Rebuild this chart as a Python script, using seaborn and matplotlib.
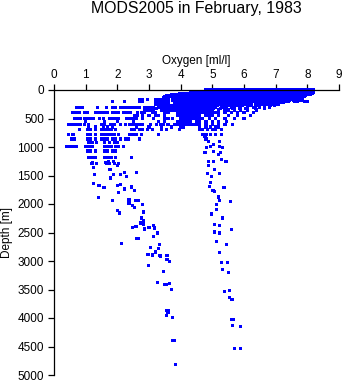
import matplotlib
matplotlib.use("Agg")
import matplotlib.pyplot as plt
import seaborn as sns
import pandas as pd

# Oxygen samples (ml/l) grouped by observed depth level (m) in the upper ocean
row_depth = [0, 20, 40, 60, 80, 100, 120, 140, 160, 180, 200, 225, 250, 275, 300, 325,
             350, 400, 450, 500, 560, 600, 650, 700, 780, 860, 920, 990, 1070, 1180, 1290]
row_oxygen = [
    # 0
    [4.8, 4.9, 5.0, 5.1, 5.2, 5.3, 5.4, 5.5, 5.6, 5.7, 5.8, 5.9, 6.0, 6.1, 6.2, 6.3, 6.4,
     6.5, 6.6, 6.7, 6.8, 6.9, 7.0, 7.1, 7.2, 7.3, 7.4, 7.5, 7.6, 7.7, 7.8, 7.9, 8.0, 8.1, 8.2],
    # 20
    [4.55, 4.65, 4.75, 4.85, 4.95, 5.05, 5.15, 5.25, 5.35, 5.45, 5.55, 5.65, 5.75, 5.85,
     5.95, 6.05, 6.15, 6.25, 6.35, 6.45, 6.55, 6.65, 6.75, 6.85, 6.95, 7.05, 7.15, 7.25,
     7.35, 7.45, 7.55, 7.65, 7.75, 7.85, 7.95, 8.05, 8.15],
    # 40
    [4.3, 4.4, 4.5, 4.6, 4.7, 4.8, 4.9, 5.0, 5.1, 5.2, 5.3, 5.4, 5.5, 5.6, 5.7, 5.8, 5.9,
     6.0, 6.1, 6.2, 6.3, 6.4, 6.5, 6.6, 6.7, 6.8, 6.9, 7.0, 7.1, 7.2, 7.3, 7.4, 7.5, 7.6,
     7.7, 7.8, 7.9, 8.0, 8.1, 8.2],
    # 60
    [3.95, 4.05, 4.15, 4.25, 4.35, 4.45, 4.55, 4.65, 4.75, 4.85, 4.95, 5.05, 5.15, 5.25,
     5.35, 5.45, 5.55, 5.65, 5.75, 5.85, 5.95, 6.05, 6.15, 6.25, 6.35, 6.45, 6.55, 6.65,
     6.75, 6.85, 6.95, 7.05, 7.15, 7.25, 7.35, 7.45, 7.55, 7.65, 7.75, 7.85, 7.95, 8.05,
     8.15],
    # 80
    [3.7, 3.8, 3.9, 4.0, 4.1, 4.2, 4.3, 4.4, 4.5, 4.6, 4.7, 4.8, 4.9, 5.0, 5.1, 5.2, 5.3,
     5.4, 5.5, 5.6, 5.7, 5.8, 5.9, 6.0, 6.1, 6.2, 6.3, 6.4, 6.5, 6.6, 6.7, 6.8, 6.9, 7.0,
     7.1, 7.2, 7.3, 7.4, 7.5, 7.6, 7.7, 7.8, 7.9, 8.0, 8.1],
    # 100
    [3.55, 3.65, 3.75, 3.85, 3.95, 4.05, 4.15, 4.25, 4.35, 4.45, 4.55, 4.65, 4.75, 4.85,
     4.95, 5.05, 5.15, 5.25, 5.35, 5.45, 5.55, 5.65, 5.75, 5.85, 5.95, 6.05, 6.15, 6.25,
     6.35, 6.45, 6.55, 6.65, 6.75, 6.85, 6.95, 7.05, 7.15, 7.25, 7.35, 7.45, 7.55, 7.65,
     7.75, 7.85, 7.95],
    # 120
    [3.5, 3.6, 3.7, 3.8, 3.9, 4.0, 4.1, 4.2, 4.3, 4.4, 4.5, 4.6, 4.7, 4.8, 4.9, 5.0, 5.1,
     5.2, 5.3, 5.4, 5.5, 5.6, 5.7, 5.8, 5.9, 6.0, 6.1, 6.2, 6.3, 6.4, 6.5, 6.6, 6.7, 6.8,
     6.9, 7.0, 7.1, 7.2, 7.3, 7.4, 7.5, 7.6, 7.7, 7.8, 7.9],
    # 140
    [3.45, 3.55, 3.75, 3.85, 3.95, 4.05, 4.15, 4.25, 4.35, 4.45, 4.55, 4.65, 4.75, 4.85,
     4.95, 5.05, 5.15, 5.25, 5.35, 5.45, 5.55, 5.65, 5.75, 5.85, 5.95, 6.05, 6.15, 6.25,
     6.35, 6.45, 6.55, 6.65, 6.75, 6.85, 7.05, 7.15, 7.25, 7.35, 7.45, 7.55, 7.65, 7.75,
     7.85],
    # 160
    [2.7, 2.8, 2.95, 3.2, 3.3, 3.4, 3.5, 3.6, 3.8, 3.9, 4.0, 4.1, 4.2, 4.3, 4.4, 4.5, 4.6,
     4.7, 4.8, 4.9, 5.0, 5.1, 5.2, 5.3, 5.4, 5.5, 5.6, 5.7, 5.8, 5.9, 6.0, 6.1, 6.2, 6.3,
     6.4, 6.5, 6.6, 6.7, 6.8, 6.9, 7.0, 7.1, 7.2, 7.3, 7.4, 7.5, 7.6, 7.7, 7.8],
    # 180
    [3.25, 3.35, 3.45, 3.55, 3.75, 3.85, 3.95, 4.05, 4.15, 4.25, 4.35, 4.45, 4.55, 4.65,
     4.75, 4.85, 4.95, 5.05, 5.15, 5.25, 5.35, 5.45, 5.55, 5.65, 5.75, 5.85, 5.95, 6.05,
     6.15, 6.25, 6.35, 6.45, 6.55, 6.65, 6.75, 6.85, 6.95, 7.05, 7.15, 7.25, 7.35, 7.45,
     7.55, 7.75, 7.85],
    # 200
    [1.86, 2.24, 2.7, 2.8, 3.2, 3.3, 3.4, 3.5, 3.6, 3.8, 3.9, 4.0, 4.1, 4.2, 4.3, 4.4, 4.5,
     4.6, 4.7, 4.8, 4.9, 5.0, 5.1, 5.2, 5.3, 5.4, 5.5, 5.6, 5.7, 5.8, 5.9, 6.0, 6.1, 6.2,
     6.3, 6.4, 6.5, 6.6, 6.7, 6.8, 6.9, 7.0, 7.1, 7.2, 7.3, 7.4, 7.6, 7.7, 7.9, 8.0],
    # 225
    [3.25, 3.35, 3.45, 3.55, 3.85, 3.95, 4.05, 4.15, 4.25, 4.35, 4.45, 4.55, 4.65, 4.85,
     4.95, 5.05, 5.15, 5.25, 5.35, 5.45, 5.55, 5.65, 5.75, 5.85, 5.95, 6.05, 6.15, 6.25,
     6.35, 6.55, 6.65, 6.75, 6.95, 7.05, 7.15, 7.25],
    # 250
    [3.2, 3.3, 3.4, 3.5, 3.6, 3.8, 3.9, 4.0, 4.1, 4.2, 4.3, 4.4, 4.5, 4.6, 4.7, 4.8, 4.9,
     5.0, 5.1, 5.2, 5.3, 5.4, 5.5, 5.6, 5.7, 5.8, 5.9, 6.0, 6.1, 6.2, 6.4, 6.5, 6.6, 6.7,
     6.8, 6.9, 7.0, 7.1],
    # 275
    [3.35, 3.45, 3.55, 3.65, 3.75, 3.85, 3.95, 4.05, 4.15, 4.25, 4.35, 4.45, 4.55, 4.65,
     4.75, 4.85, 4.95, 5.05, 5.15, 5.35, 5.45, 5.55, 5.65, 5.75, 5.85, 5.95, 6.15, 6.25,
     6.35, 6.45, 6.65, 6.85, 6.95],
    # 300
    [0.7, 0.8, 0.9, 1.37, 1.65, 1.85, 1.95, 2.1, 2.2, 2.3, 2.4, 2.5, 2.6, 2.7, 2.85, 2.95,
     3.05, 3.15, 3.3, 3.4, 3.5, 3.6, 3.7, 3.8, 3.9, 4.0, 4.1, 4.2, 4.3, 4.4, 4.5, 4.6, 4.7,
     4.8, 4.9, 5.0, 5.1, 5.3, 5.4, 5.6, 5.7, 5.9, 6.1, 6.3, 6.5, 6.8],
    # 325
    [3.25, 3.45, 3.55, 3.75, 3.85, 3.95, 4.05, 4.15, 4.25, 4.35, 4.45, 4.55, 4.65, 4.85,
     4.95, 5.05, 5.25, 5.45, 5.65, 5.85, 6.05, 6.35, 6.65],
    # 350
    [2.85, 2.95, 3.05, 3.15, 3.4, 3.5, 3.6, 3.7, 3.8, 3.9, 4.0, 4.1, 4.2, 4.3, 4.4, 4.5,
     4.6, 4.7, 4.8, 4.9, 5.0, 5.2, 5.4, 5.5, 5.7, 5.9, 6.1, 6.4],
    # 400
    [0.6, 0.7, 0.8, 0.95, 1.05, 1.3, 1.4, 1.5, 1.6, 1.7, 1.85, 1.95, 2.05, 2.2, 2.3, 2.4,
     2.65, 2.75, 2.85, 3.1, 3.2, 3.5, 3.6, 3.9, 4.0, 4.1, 4.2, 4.3, 4.4, 4.5, 4.6, 4.7,
     4.8, 4.9, 5.0, 5.1, 5.2, 5.4, 5.6, 5.8, 6.0, 6.3],
    # 450
    [2.55, 2.65, 2.8, 3.0, 3.2, 3.3, 3.5, 3.9, 4.0, 4.1, 4.2, 4.3, 4.4, 4.5, 4.6, 4.8, 4.9,
     5.0, 5.2, 5.5, 5.8, 6.2],
    # 500
    [0.65, 0.75, 0.85, 0.95, 1.05, 1.15, 1.25, 1.45, 1.55, 1.75, 1.85, 1.95, 2.05, 2.3,
     2.4, 2.5, 2.6, 2.8, 3.15, 3.5, 3.6, 3.75, 4.0, 4.1, 4.2, 4.3, 4.4, 4.5, 4.6, 4.7, 4.9,
     5.1, 5.4, 5.7, 6.0],
    # 560
    [1.0, 1.6, 2.0, 2.5, 3.3, 3.5, 3.9, 4.0, 4.1, 4.2, 4.3, 4.5, 4.6, 4.8, 5.0, 5.2, 5.45],
    # 600
    [0.45, 0.55, 0.65, 0.75, 0.85, 0.95, 1.1, 1.5, 1.6, 1.8, 1.9, 2.1, 2.25, 2.4, 2.5, 2.6,
     2.7, 2.8, 3.05, 3.25, 3.35, 3.45, 3.6, 3.8, 3.9, 4.0, 4.1, 4.2, 4.3, 4.4, 4.5, 4.6,
     4.8, 5.0, 5.2, 5.4, 5.65],
    # 650
    [1.1, 1.3, 1.55, 1.7, 1.85, 2.6, 3.0, 3.4, 3.7, 4.0, 4.1, 4.6, 4.8, 4.95, 5.1, 5.2],
    # 700
    [0.8, 1.05, 1.15, 1.3, 1.5, 1.6, 1.7, 1.8, 1.95, 2.45, 2.55, 2.7, 2.8, 2.95, 3.1, 3.4,
     3.55, 3.95, 4.6, 4.7, 4.85, 5.0, 5.1, 5.3],
    # 780
    [0.45, 0.6, 1.05, 1.15, 1.3, 1.5, 1.6, 1.7, 1.8, 1.9, 2.05, 2.4, 2.5, 2.6, 2.75, 3.3,
     4.7, 4.8, 4.95, 5.1, 5.3],
    # 860
    [0.55, 0.65, 1.05, 1.15, 1.3, 1.5, 1.6, 1.7, 1.85, 1.95, 2.1, 2.25, 2.35, 2.7, 4.8],
    # 920
    [1.1, 1.2, 1.35, 1.6, 1.75, 1.9, 2.0],
    # 990
    [0.4, 0.5, 0.6, 0.72, 1.0, 1.1, 1.2, 1.6, 1.7, 1.8, 1.95, 2.05, 2.2],
    # 1070
    [1.05, 1.15, 1.3, 1.6, 1.7, 1.85, 1.95],
    # 1180
    [1.1, 1.2, 1.3, 1.6, 1.7, 1.8, 1.95, 2.45],
    # 1290
    [1.2, 1.35, 1.65, 1.75, 1.9, 2.05],
]

# Deep, low-oxygen branch
low_oxygen = [1.21, 1.63, 1.71, 1.89, 2.0, 1.26, 1.29, 1.77, 1.79, 1.89, 2.1, 2.23, 2.3,
              2.6, 1.26, 1.42, 1.58, 2.0, 2.1, 2.23, 2.44, 2.53, 2.05, 1.4, 1.84, 2.37,
              2.58, 2.68, 2.37, 2.47, 2.79, 2.53, 2.0, 2.07, 2.84, 2.76, 2.82, 2.72, 2.84,
              2.47, 2.59, 3.0, 3.14, 3.16, 3.28, 2.86, 3.13, 2.61, 2.68, 2.14, 3.05, 3.33,
              3.29, 2.97, 3.21, 3.35, 2.95, 3.1, 3.2, 3.32, 3.36, 3.57, 3.57, 3.64, 2.99,
              3.45, 3.28, 3.49, 3.56, 3.66, 3.70, 3.55, 3.62, 3.6, 3.54, 3.75, 3.74, 3.8,
              3.83]
low_depth = [1279, 1279, 1251, 1251, 1327, 1367, 1485, 1397, 1543, 1485, 1485, 1455, 1525,
             1455, 1643, 1678, 1718, 1678, 1660, 1736, 1701, 1766, 1806, 1884, 1936, 1924,
             1936, 1936, 1982, 2024, 2012, 2059, 2117, 2158, 2140, 2245, 2288, 2333, 2351,
             2411, 2398, 2411, 2381, 2421, 2509, 2439, 2569, 2604, 2604, 2697, 2762, 2715,
             2773, 2890, 2850, 2920, 2890, 2895, 2843, 2908, 2905, 2896, 2966, 3001, 3084,
             3177, 3377, 3405, 3405, 3388, 3493, 3874, 3874, 3904, 3962, 3985, 4401, 4395,
             4811]

# Deep, higher-oxygen branch
high_oxygen = [4.77, 4.87, 4.82, 4.93, 4.77, 5.05, 5.05, 5.24, 5.22, 5.31, 5.26, 5.19,
               4.87, 5.03, 4.89, 5.28, 5.43, 4.84, 4.96, 5.06, 5.22, 4.93, 4.91, 5.02,
               5.08, 5.37, 5.19, 5.22, 5.56, 5.12, 5.12, 4.96, 5.33, 5.08, 5.22, 5.6, 5.08,
               5.22, 5.14, 5.44, 5.22, 5.29, 5.48, 5.31, 5.50, 5.39, 5.53, 5.53, 5.62, 5.60,
               5.68, 5.65, 5.89, 5.71, 5.88]
high_depth = [812, 900, 1016, 987, 1103, 958, 1075, 900, 987, 1016, 1103, 1133, 1262, 1262,
              1327, 1221, 1262, 1472, 1515, 1397, 1467, 1620, 1690, 1760, 1778, 1708, 1877,
              1941, 1954, 2012, 2100, 2175, 2245, 2363, 2375, 2451, 2491, 2509, 2657, 2715,
              2850, 3019, 3019, 3142, 3195, 3528, 3517, 3634, 3669, 4033, 4021, 4126, 4144,
              4530, 4530]

x_ticks = [0, 1, 2, 3, 4, 5, 6, 7, 8, 9]
y_ticks = [0, 500, 1000, 1500, 2000, 2500, 3000, 3500, 4000, 4500, 5000]

sns.set_theme(style="white")
plt.rcParams["font.family"] = ["Liberation Sans", "DejaVu Sans"]

records = []
for d, values in zip(row_depth, row_oxygen):
    for o in values:
        records.append((o, d))
records += list(zip(low_oxygen, low_depth))
records += list(zip(high_oxygen, high_depth))
df = pd.DataFrame(records, columns=["oxygen", "depth"])

fig = plt.figure(figsize=(3.45, 3.84), dpi=100)
fig.patch.set_facecolor("white")
ax = fig.add_axes([54 / 345, 9 / 384, 285 / 345, 285 / 384])
ax.set_facecolor("white")

sns.scatterplot(data=df, x="oxygen", y="depth", marker="s", s=5, color="#0000ff",
                linewidth=0, edgecolor="none", ax=ax, legend=False, clip_on=False)

ax.set_xlim(0, 9)
ax.set_ylim(5000, 0)
ax.xaxis.tick_top()
ax.xaxis.set_label_position("top")
ax.set_xticks(x_ticks)
ax.set_yticks(y_ticks)
ax.set_xlabel("Oxygen [ml/l]", fontsize=8.5, labelpad=3, color="black")
ax.set_ylabel("Depth [m]", fontsize=8.5, labelpad=3, color="black")

for side in ["right", "bottom"]:
    ax.spines[side].set_visible(False)
for side in ["top", "left"]:
    ax.spines[side].set_color("black")
    ax.spines[side].set_linewidth(0.9)

ax.tick_params(axis="x", top=True, bottom=False, labeltop=True, labelbottom=False,
               direction="out", length=4.3, width=0.9, pad=2.5, labelsize=8.5,
               colors="black")
ax.tick_params(axis="y", left=True, right=False, direction="out", length=4.3, width=0.9,
               pad=3, labelsize=8.5, colors="black")
ax.grid(False)

fig.text(196.5 / 345, 1 - 8.5 / 384, "MODS2005 in February, 1983", ha="center",
         va="center", fontsize=11.4, color="black")

fig.savefig("out.png", dpi=100, facecolor="white")
